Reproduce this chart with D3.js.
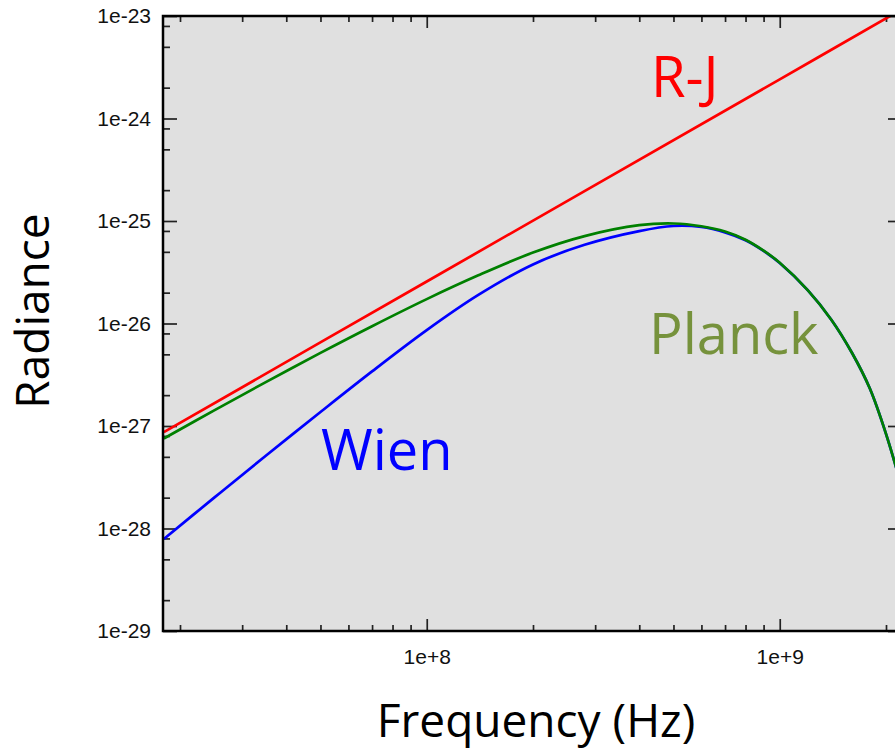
<!DOCTYPE html>
<html>
<head>
<meta charset="utf-8">
<script src="https://cdn.jsdelivr.net/npm/d3@7"></script>
<style>
  body { margin: 0; background: #fff; }
  svg { display: block; }
</style>
</head>
<body>
<div id="chart"></div>
<script>
// Werte (Frequenz in Hz, Strahldichte)
const rjFreq = [1.8e7, 1e8, 1e9, 2.3e9];
const rjValues = [8.7e-28, 2.57e-26, 2.41e-24, 1.25e-23];

const curveFreq = [1.8e7, 2.5e7, 3.5e7, 5e7, 7e7, 1e8, 1.4e8, 2e8, 2.8e8, 4e8, 5e8, 6e8,
                   7e8, 8e8, 9e8, 1e9, 1.2e9, 1.4e9, 1.6e9, 1.8e9, 2e9, 2.25e9];
const planckValues = [7.55e-28, 1.42e-27, 2.68e-27, 5.17e-27, 9.41e-27, 1.73e-26, 2.95e-26, 4.92e-26,
                      7.12e-26, 9.1e-26, 9.45e-26, 8.88e-26, 7.9e-26, 6.57e-26, 5.14e-26, 3.92e-26,
                      2.12e-26, 1.09e-26, 5.21e-27, 2.32e-27, 8.38e-28, 2.1e-28];
const wienValues = [7.9e-29, 2.0e-28, 5.13e-28, 1.37e-27, 3.41e-27, 8.62e-27, 1.9e-26, 3.77e-26,
                    5.86e-26, 7.97e-26, 8.94e-26, 8.74e-26, 7.74e-26, 6.48e-26, 5.1e-26, 3.89e-26,
                    2.115e-26, 1.09e-26, 5.21e-27, 2.32e-27, 8.38e-28, 2.1e-28];

const yMajorTicks = [1e-29, 1e-28, 1e-27, 1e-26, 1e-25, 1e-24, 1e-23];
const xMajorTicks = [1e8, 1e9];

const width = 895, height = 749;
const mLeft = 163, mRight = 902, mTop = 16, mBottom = 631;

const svg = d3.select("#chart").append("svg")
  .attr("width", width)
  .attr("height", height);

const x = d3.scaleLog().domain([1.79e7, 2.22e9]).range([mLeft, mRight]);
const y = d3.scaleLog().domain([1e-29, 1e-23]).range([mBottom, mTop]);

// Hintergrund der Plotfläche
svg.append("rect")
  .attr("x", mLeft).attr("y", mTop)
  .attr("width", mRight - mLeft).attr("height", mBottom - mTop)
  .attr("fill", "#e0e0e0");

// Nebenstriche: x bei 2..9, y bei 2, 5, 8
const xMinor = [];
for (let e = 7; e <= 9; e++) for (let m = 2; m <= 9; m++) {
  const v = m * Math.pow(10, e);
  if (v > x.domain()[0] && v < x.domain()[1]) xMinor.push(v);
}
const yMinor = [];
for (let e = -29; e < -23; e++) [2, 5, 8].forEach(m => yMinor.push(m * Math.pow(10, e)));

const expFmt = (d, plus) => {
  const e = Math.round(Math.log10(d));
  return "1e" + (e >= 0 && plus ? "+" : "") + e;
};

function styleAxis(g) {
  g.select(".domain").remove();
  g.selectAll("line").attr("stroke", "#222").attr("stroke-width", 1.7);
  g.selectAll("text")
    .attr("fill", "#111")
    .style("font-family", "'Liberation Sans', Arial, sans-serif")
    .style("font-size", "21px");
}

// linke Achse
svg.append("g").attr("transform", `translate(${mLeft},0)`)
  .call(d3.axisLeft(y).tickValues(yMajorTicks).tickSize(-14).tickPadding(12).tickFormat(d => expFmt(d, false)))
  .call(styleAxis);
svg.append("g").attr("transform", `translate(${mLeft},0)`)
  .call(d3.axisLeft(y).tickValues(yMinor).tickSize(-7).tickFormat(""))
  .call(styleAxis);

// rechte Achse
svg.append("g").attr("transform", `translate(${mRight},0)`)
  .call(d3.axisRight(y).tickValues(yMajorTicks).tickSize(-14).tickFormat(""))
  .call(styleAxis);
svg.append("g").attr("transform", `translate(${mRight},0)`)
  .call(d3.axisRight(y).tickValues(yMinor).tickSize(-7).tickFormat(""))
  .call(styleAxis);

// untere Achse
svg.append("g").attr("transform", `translate(0,${mBottom})`)
  .call(d3.axisBottom(x).tickValues(xMajorTicks).tickSize(-12).tickPadding(18).tickFormat(d => expFmt(d, true)))
  .call(styleAxis);
svg.append("g").attr("transform", `translate(0,${mBottom})`)
  .call(d3.axisBottom(x).tickValues(xMinor).tickSize(-6).tickFormat(""))
  .call(styleAxis);

// obere Achse
svg.append("g").attr("transform", `translate(0,${mTop})`)
  .call(d3.axisTop(x).tickValues(xMajorTicks).tickSize(-12).tickFormat(""))
  .call(styleAxis);
svg.append("g").attr("transform", `translate(0,${mTop})`)
  .call(d3.axisTop(x).tickValues(xMinor).tickSize(-6).tickFormat(""))
  .call(styleAxis);

// Kurven
svg.append("clipPath").attr("id", "clip")
  .append("rect")
  .attr("x", mLeft).attr("y", mTop)
  .attr("width", mRight - mLeft).attr("height", mBottom - mTop);

const line = d3.line()
  .x(d => x(d[0]))
  .y(d => y(d[1]))
  .curve(d3.curveCatmullRom.alpha(0.5));

const series = [
  { freq: rjFreq, values: rjValues, color: "#ff0000" },
  { freq: curveFreq, values: wienValues, color: "#0000ff" },
  { freq: curveFreq, values: planckValues, color: "#008000" }
];

const plot = svg.append("g").attr("clip-path", "url(#clip)");
series.forEach(s => {
  plot.append("path")
    .datum(s.freq.map((f, i) => [f, s.values[i]]))
    .attr("fill", "none")
    .attr("stroke", s.color)
    .attr("stroke-width", 2.7)
    .attr("d", line);
});

// Rahmen
svg.append("rect")
  .attr("x", mLeft).attr("y", mTop)
  .attr("width", mRight - mLeft).attr("height", mBottom - mTop)
  .attr("fill", "none")
  .attr("stroke", "#000")
  .attr("stroke-width", 2.5);

// Beschriftungen der Kurven
const labelFont = "'Open Sans', 'Noto Sans', sans-serif";
const labels = [
  { text: "R-J", x: 651, y: 97, color: "#ff0000" },
  { text: "Wien", x: 321, y: 470, color: "#0000ff" },
  { text: "Planck", x: 649, y: 354, color: "#76923c" }
];
svg.selectAll(".curve-label")
  .data(labels)
  .enter()
  .append("text")
  .attr("class", "curve-label")
  .attr("x", d => d.x)
  .attr("y", d => d.y)
  .attr("fill", d => d.color)
  .style("font-family", labelFont)
  .style("font-size", "56px")
  .text(d => d.text);

// Achsentitel
svg.append("text")
  .attr("x", 536)
  .attr("y", 737)
  .attr("text-anchor", "middle")
  .attr("fill", "#000")
  .style("font-family", labelFont)
  .style("font-size", "46px")
  .text("Frequency (Hz)");

svg.append("text")
  .attr("transform", "translate(49,311) rotate(-90)")
  .attr("text-anchor", "middle")
  .attr("fill", "#000")
  .style("font-family", labelFont)
  .style("font-size", "46px")
  .text("Radiance");
</script>
</body>
</html>
